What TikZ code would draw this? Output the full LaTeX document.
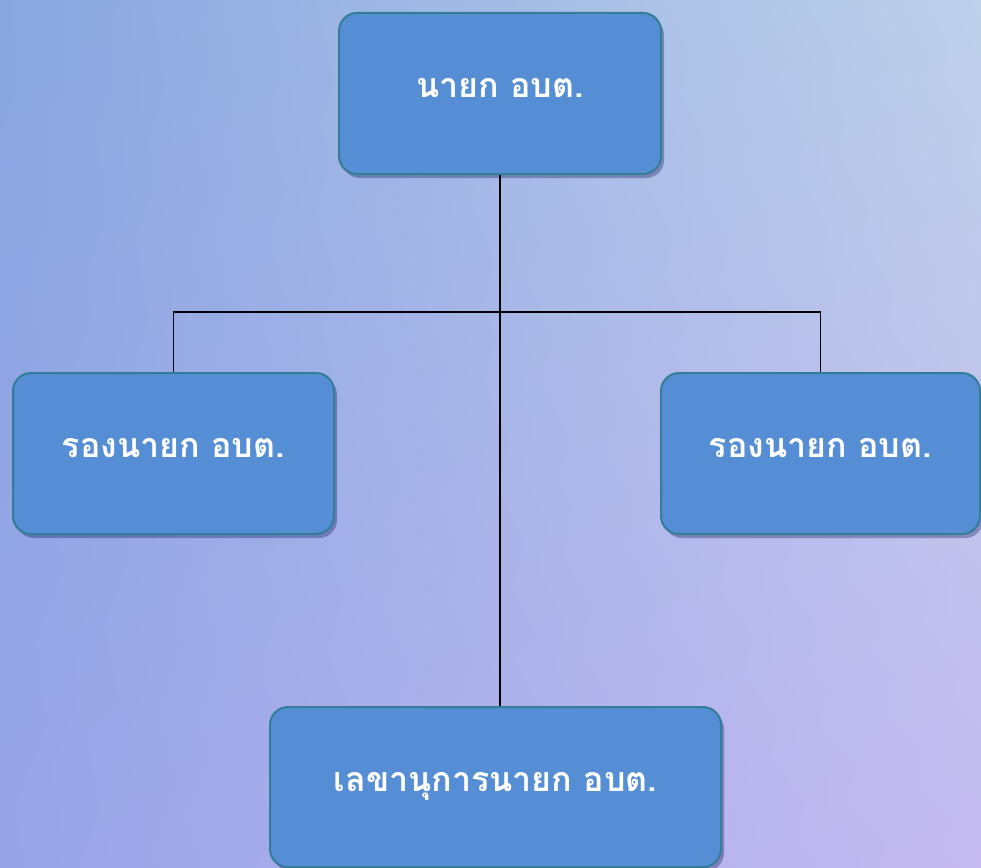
\documentclass[tikz,border=0pt]{standalone}
\usepackage{fontspec}
\newfontfamily\thaifont[Script=Thai]{Loma}
\usetikzlibrary{shadows,shadings}
\definecolor{boxfill}{RGB}{85,142,213}
\definecolor{boxline}{RGB}{52,125,150}
\definecolor{bgTL}{RGB}{136,166,224}
\definecolor{bgTR}{RGB}{190,208,234}
\definecolor{bgBL}{RGB}{152,164,232}
\definecolor{bgBR}{RGB}{196,186,240}
\tikzset{
  orgbox/.style={draw=boxline, line width=2pt, fill=boxfill, rounded corners=18pt,
    drop shadow={shadow xshift=3pt, shadow yshift=-4pt, opacity=0.3, fill=black!70!blue},
    inner sep=0pt, anchor=north west},
  boxtext/.style={text=white, font=\thaifont\bfseries\fontsize{34}{40}\selectfont, inner sep=0pt},
  link/.style={draw=black, line width=1.3pt}
}
\begin{document}
\begin{tikzpicture}[x=1pt,y=-1pt]
\useasboundingbox (0,0) rectangle (981,867);
\shade[upper left=bgTL, upper right=bgTR, lower left=bgBL, lower right=bgBR] (0,0) rectangle (981,867);
\node[orgbox, minimum width=322pt, minimum height=161pt] (top) at (338,12) {};
\node[orgbox, minimum width=321pt, minimum height=161pt] (left) at (12,372) {};
\node[orgbox, minimum width=319pt, minimum height=161pt] (right) at (660,372) {};
\node[orgbox, minimum width=451pt, minimum height=160pt] (bottom) at (269,706) {};
\node[boxtext, anchor=base] (toptext) at ([yshift=-4pt]top.center) {นายก อบต.};
\node[boxtext, anchor=base] (lefttext) at ([yshift=-4pt]left.center) {รองนายก อบต.};
\node[boxtext, anchor=base] (righttext) at ([yshift=-4pt]right.center) {รองนายก อบต.};
\node[boxtext, anchor=base] (bottomtext) at ([yshift=-4pt]bottom.center) {เลขานุการนายก อบต.};
\coordinate (junction) at (top.south |- 0,312);
\draw[link] (top.south) -- (top.south |- bottom.north);
\draw[link] (left.north) |- (junction) -| (right.north);
\end{tikzpicture}
\end{document}
